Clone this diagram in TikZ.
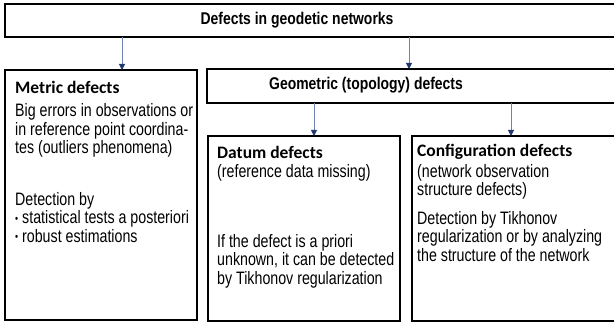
\documentclass[tikz,border=0pt]{standalone}
\usepackage{fontspec}
\setmainfont{Liberation Sans}
\newfontfamily\arialn[FakeStretch=0.79]{Liberation Sans}
\newfontfamily\arialb[FakeStretch=0.82]{Liberation Sans}
\newfontfamily\calib{Carlito}
\usetikzlibrary{arrows.meta}
\definecolor{navy}{RGB}{31,56,110}
\definecolor{shaft}{RGB}{110,130,175}
\newcommand{\smallbul}{\raisebox{1.5pt}{\fontsize{11}{11}\selectfont\textbullet}\ }
\begin{document}
\begin{tikzpicture}[x=1pt,y=-1pt,
  box/.style={draw=black,line width=2pt,rectangle,anchor=north west,inner sep=0pt,outer sep=0pt},
  arr/.style={draw=shaft,line width=1pt,-{Triangle[length=6pt,width=6pt,color=navy]}},
  body/.style={anchor=north west,inner sep=0pt,align=left,font=\arialn\fontsize{18}{18.6}\selectfont},
  head/.style={anchor=west,inner sep=0pt,font=\calib\bfseries\fontsize{17.5}{20}\selectfont},
  titletext/.style={inner sep=0pt,font=\arialb\bfseries\fontsize{17}{20}\selectfont}]
\useasboundingbox (0,0) rectangle (614,331);
\clip (0,0) rectangle (614,331);
% boxes
\node[box,minimum width=620pt,minimum height=33pt] (top) at (5,4) {};
\node[box,minimum width=192pt,minimum height=250pt] (metric) at (5,70) {};
\node[box,minimum width=418pt,minimum height=34pt] (geom) at (207,69) {};
\node[box,minimum width=192pt,minimum height=185pt] (datum) at (208,136) {};
\node[box,minimum width=213pt,minimum height=185pt] (config) at (412,136) {};
% texts
\node[titletext] (toptext) at (297,20.5) {Defects in geodetic networks};
\node[titletext] (geomtext) at (366,85) {Geometric (topology) defects};
\node[head] (metrichead) at (15,87) {Metric defects};
\node[body] (metricA) at (15,103.5) {Big errors in observations or\\in reference point coordina-\\tes (outliers phenomena)};
\node[body] (metricB) at (15,192) {Detection by\\\smallbul statistical tests a posteriori\\\smallbul robust estimations};
\node[head] (datumhead) at (217,152) {Datum defects};
\node[body] (datumsub) at (217,164) {(reference data missing)};
\node[body] (datumB) at (217,234) {If the defect is a priori\\unknown, it can be detected\\by Tikhonov regularization};
\node[head] (confighead) at (417,152) {Configuration defects};
\node[body] (configsub) at (417,164) {(network observation\\structure defects)};
\node[body] (configB) at (417,211) {Detection by Tikhonov\\regularization or by analyzing\\the structure of the network};
% arrows
\coordinate (a1) at (122,0);
\coordinate (a2) at (409,0);
\coordinate (a3) at (314,0);
\coordinate (a4) at (511,0);
\draw[arr] (a1 |- top.south) -- (a1 |- metric.north);
\draw[arr] (a2 |- top.south) -- (a2 |- geom.north);
\draw[arr] (a3 |- geom.south) -- (a3 |- datum.north);
\draw[arr] (a4 |- geom.south) -- (a4 |- config.north);
\end{tikzpicture}
\end{document}
